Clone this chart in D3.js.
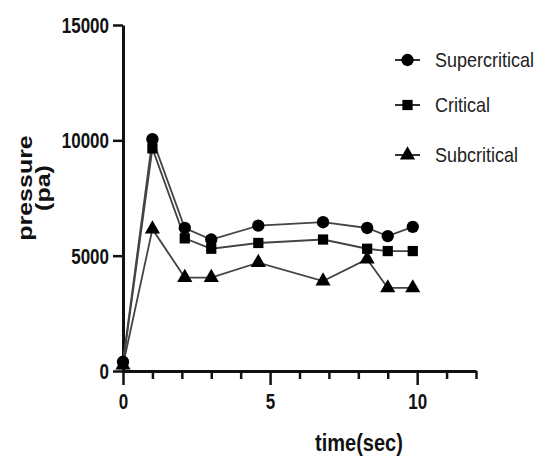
<!DOCTYPE html>
<html>
<head>
<meta charset="utf-8">
<script src="https://cdn.jsdelivr.net/npm/d3@7/dist/d3.min.js"></script>
<style>
  body { margin: 0; background: #fff; }
  svg text { font-family: "Liberation Sans", Arial, sans-serif; fill: #111; }
  .stretch { transform-box: fill-box; transform-origin: center; }
</style>
</head>
<body>
<div id="chart"></div>
<script>
// data
var timeSec = [0, 1, 2.1, 3, 4.6, 6.8, 8.3, 9, 9.85];
var supercritical = [400, 10050, 6200, 5700, 6300, 6450, 6200, 5850, 6250];
var critical = [300, 9650, 5750, 5300, 5550, 5700, 5300, 5200, 5200];
var subcritical = [250, 6150, 4050, 4050, 4700, 3900, 4850, 3600, 3600];
var seriesNames = ["Supercritical", "Critical", "Subcritical"];
var yTicks = [0, 5000, 10000, 15000];
var xTicks = [0, 1, 2, 3, 4, 5, 6, 7, 8, 9, 10, 11, 12];
var xLabelled = [0, 5, 10];

var svgWidth = 543, svgHeight = 459;
var svg = d3.select("#chart").append("svg")
    .attr("width", svgWidth)
    .attr("height", svgHeight);

var x = d3.scaleLinear().domain([0, 12]).range([123, 476]);
var y = d3.scaleLinear().domain([0, 15000]).range([371, 25]);

// y axis
var yAxis = svg.append("g")
    .attr("transform", "translate(123,0)")
    .call(d3.axisLeft(y).tickValues(yTicks).tickSize(10).tickSizeOuter(0).tickPadding(4).tickFormat(d3.format("d")));
yAxis.select(".domain").attr("stroke", "#111").attr("stroke-width", 3);
yAxis.selectAll(".tick line").attr("stroke", "#111").attr("stroke-width", 2.5);
yAxis.selectAll(".tick text")
    .attr("class", "stretch")
    .style("font-size", "17px").style("font-weight", "bold")
    .style("transform", "scaleY(1.35)");

// x axis
var xAxis = svg.append("g")
    .attr("transform", "translate(0,371)")
    .call(d3.axisBottom(x).tickValues(xTicks).tickSize(14).tickSizeOuter(0)
        .tickFormat(function(d) { return xLabelled.indexOf(d) >= 0 ? d : ""; }));
xAxis.select(".domain").attr("stroke", "#111").attr("stroke-width", 3);
xAxis.selectAll(".tick line").attr("stroke", "#111").attr("stroke-width", 2.5)
    .attr("y2", function(d) { return xLabelled.indexOf(d) >= 0 ? 14 : 8; });
xAxis.selectAll(".tick text")
    .attr("class", "stretch")
    .attr("y", 24)
    .style("font-size", "17px").style("font-weight", "bold")
    .style("transform", "scaleY(1.35)");

// axis titles
svg.append("text")
    .attr("class", "stretch")
    .attr("x", 359).attr("y", 450)
    .attr("text-anchor", "middle")
    .style("font-size", "20px").style("font-weight", "bold")
    .style("transform", "scaleY(1.15)")
    .text("time(sec)");

var yTitle = svg.append("g").attr("transform", "translate(26,188) rotate(-90)");
yTitle.append("text")
    .attr("class", "stretch")
    .attr("x", 0).attr("y", 6)
    .attr("text-anchor", "middle")
    .style("font-size", "20px").style("font-weight", "bold")
    .style("transform", "scaleX(1.25)")
    .text("pressure");
yTitle.append("text")
    .attr("class", "stretch")
    .attr("x", 0).attr("y", 24)
    .attr("text-anchor", "middle")
    .style("font-size", "20px").style("font-weight", "bold")
    .style("transform", "scaleX(1.25)")
    .text("(pa)");

// series
var allSeries = [supercritical, critical, subcritical];
var shapes = [d3.symbolCircle, d3.symbolSquare, d3.symbolTriangle];
var sizes = [120, 105, 100];

var line = d3.line()
    .x(function(d, i) { return x(timeSec[i]); })
    .y(function(d) { return y(d); });

allSeries.forEach(function(values, k) {
    svg.append("path")
        .datum(values)
        .attr("d", line)
        .attr("fill", "none")
        .attr("stroke", "#444")
        .attr("stroke-width", 1.8);
});

allSeries.forEach(function(values, k) {
    svg.append("g").selectAll("path")
        .data(values)
        .enter()
        .append("path")
        .attr("d", d3.symbol().type(shapes[k]).size(sizes[k]))
        .attr("transform", function(d, i) { return "translate(" + x(timeSec[i]) + "," + y(d) + ")"; })
        .attr("fill", "#000");
});

// legend
var legendY = [60, 105, 155];
seriesNames.forEach(function(name, k) {
    var g = svg.append("g").attr("transform", "translate(0," + legendY[k] + ")");
    g.append("line")
        .attr("x1", 395).attr("x2", 420)
        .attr("y1", 0).attr("y2", 0)
        .attr("stroke", "#333").attr("stroke-width", 2);
    g.append("path")
        .attr("d", d3.symbol().type(shapes[k]).size(sizes[k]))
        .attr("transform", "translate(407.5,0)")
        .attr("fill", "#000");
    g.append("text")
        .attr("class", "stretch")
        .attr("x", 435).attr("y", 0)
        .attr("dy", "0.35em")
        .style("font-size", "18px")
        .style("fill", "#222")
        .style("transform", "scaleY(1.15)")
        .text(name);
});
</script>
</body>
</html>
